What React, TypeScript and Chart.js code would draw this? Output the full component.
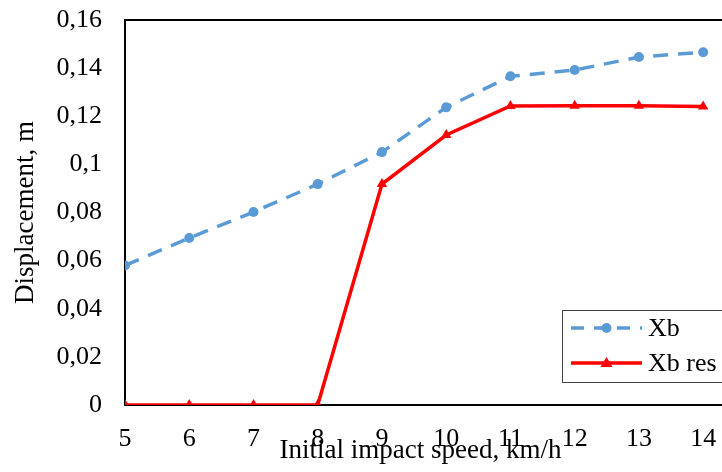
import React, { useEffect, useRef } from "react";
import { Chart, registerables } from "chart.js";

Chart.register(...registerables);

const speeds = [5, 6, 7, 8, 9, 10, 11, 12, 13, 14];
const xb = [0.058, 0.0694, 0.0802, 0.0918, 0.1051, 0.1237, 0.1366, 0.1392, 0.1446, 0.1466];
const xbRes = [0, 0, 0, 0, 0.0918, 0.1122, 0.1243, 0.1244, 0.1244, 0.1241];
const seriesNames = ["Xb", "Xb res"];
const xTitle = "Initial impact speed, km/h";
const yTitle = "Displacement, m";

const BLUE = "#5B9BD5";
const RED = "#FF0000";
const FONT = "'Liberation Serif', 'Times New Roman', serif";

const frameAndLegend = {
  id: "frameAndLegend",
  afterDraw(chart: any) {
    const { ctx, chartArea } = chart;
    ctx.save();
    ctx.strokeStyle = "#000";
    ctx.lineWidth = 2;
    ctx.beginPath();
    ctx.moveTo(chartArea.left - 1, chartArea.top);
    ctx.lineTo(chart.width + 2, chartArea.top);
    ctx.stroke();
    ctx.beginPath();
    ctx.moveTo(chartArea.right, chartArea.bottom);
    ctx.lineTo(chart.width + 2, chartArea.bottom);
    ctx.stroke();

    const bx = 562, by = 310, bw = 200, bh = 72;
    ctx.fillStyle = "#fff";
    ctx.fillRect(bx, by, bw, bh);
    ctx.strokeStyle = "#404040";
    ctx.lineWidth = 1;
    ctx.strokeRect(bx + 0.5, by + 0.5, bw, bh);

    const x0 = 571, x1 = 642;
    const y1 = 328, y2 = 363;
    ctx.strokeStyle = BLUE;
    ctx.lineWidth = 3.5;
    ctx.setLineDash([13, 10]);
    ctx.beginPath();
    ctx.moveTo(x0, y1);
    ctx.lineTo(x1, y1);
    ctx.stroke();
    ctx.setLineDash([]);
    ctx.fillStyle = BLUE;
    ctx.beginPath();
    ctx.arc((x0 + x1) / 2, y1, 5, 0, Math.PI * 2);
    ctx.fill();
    ctx.strokeStyle = RED;
    ctx.beginPath();
    ctx.moveTo(x0, y2);
    ctx.lineTo(x1, y2);
    ctx.stroke();
    ctx.fillStyle = RED;
    const cx = (x0 + x1) / 2;
    ctx.beginPath();
    ctx.moveTo(cx, y2 - 6);
    ctx.lineTo(cx + 6, y2 + 4);
    ctx.lineTo(cx - 6, y2 + 4);
    ctx.closePath();
    ctx.fill();

    ctx.fillStyle = "#000";
    ctx.font = `26px ${FONT}`;
    ctx.textBaseline = "middle";
    ctx.textAlign = "left";
    ctx.fillText(seriesNames[0], 648, y1 + 1);
    ctx.fillText(seriesNames[1], 648, y2 + 1);
    ctx.restore();
  },
};

export default function App() {
  const ref = useRef<HTMLCanvasElement>(null);
  useEffect(() => {
    if (!ref.current) return;
    const chart = new Chart(ref.current, {
      type: "line",
      data: {
        datasets: [
          {
            label: seriesNames[0],
            data: speeds.map((s, i) => ({ x: s, y: xb[i] })),
            borderColor: BLUE,
            backgroundColor: BLUE,
            borderWidth: 3.5,
            borderDash: [15, 10],
            pointStyle: "circle",
            pointRadius: 5,
            pointBorderWidth: 0,
            pointBackgroundColor: BLUE,
            tension: 0,
          },
          {
            label: seriesNames[1],
            data: speeds.map((s, i) => ({ x: s, y: xbRes[i] })),
            borderColor: RED,
            backgroundColor: RED,
            borderWidth: 3.5,
            pointStyle: "triangle",
            pointRadius: 6,
            pointBorderWidth: 0,
            pointBackgroundColor: RED,
            tension: 0,
          },
        ],
      },
      options: {
        animation: false,
        responsive: false,
        layout: { padding: { top: 20, left: 0, right: 0, bottom: 0 } },
        plugins: { legend: { display: false }, tooltip: { enabled: false } },
        scales: {
          x: {
            type: "linear",
            min: 5,
            max: 14.2,
            grid: { display: false },
            border: { display: true, color: "#000", width: 2 },
            ticks: {
              stepSize: 1,
              includeBounds: false,
              padding: 11,
              color: "#000",
              font: { family: FONT, size: 26 },
            },
            title: {
              display: true,
              text: xTitle,
              color: "#000",
              font: { family: FONT, size: 27 },
              padding: { top: 0, bottom: 5 },
            },
            afterFit: (s: any) => {
              s.height = 67;
              s.paddingLeft = 0;
              s.paddingRight = 0;
            },
          },
          y: {
            min: 0,
            max: 0.16,
            grid: { display: false },
            border: { display: true, color: "#000", width: 2 },
            ticks: {
              stepSize: 0.02,
              padding: 15,
              color: "#000",
              font: { family: FONT, size: 26 },
              callback: (v: any) => String(Math.round(Number(v) * 100) / 100).replace(".", ","),
            },
            title: {
              display: true,
              text: yTitle,
              color: "#000",
              font: { family: FONT, size: 27 },
              padding: { top: 10, bottom: 0 },
            },
            afterFit: (s: any) => {
              s.width = 125;
              s.paddingTop = 0;
              s.paddingBottom = 0;
            },
          },
        },
      },
      plugins: [frameAndLegend],
    });
    return () => chart.destroy();
  }, []);
  return (
    <div style={{ position: "absolute", left: 0, top: 0, width: 722, height: 472, overflow: "hidden", background: "#fff" }}>
      <canvas ref={ref} width={722} height={472} style={{ width: 722, height: 472 }} />
    </div>
  );
}
